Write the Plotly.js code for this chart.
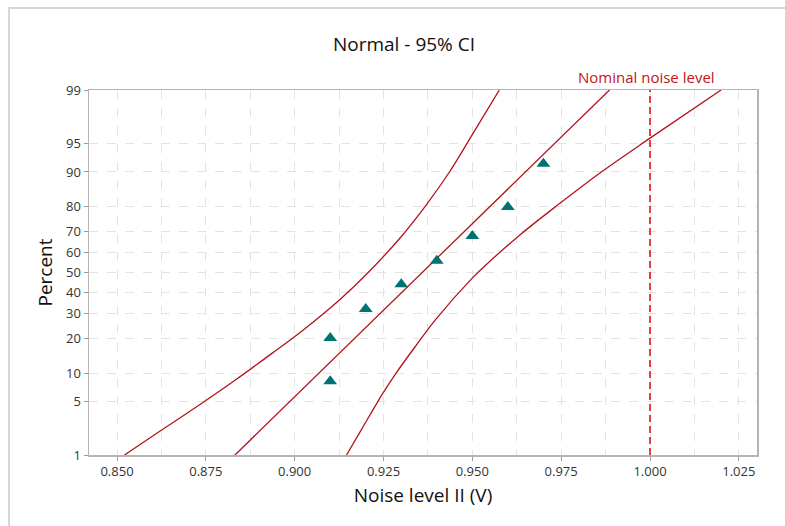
<!DOCTYPE html>
<html>
<head>
<meta charset="utf-8">
<script src="https://cdn.plot.ly/plotly-3.0.1.min.js"></script>
<style>
html,body{margin:0;padding:0;background:#fff;}
#frame{position:absolute;left:8px;top:7px;width:790px;height:530px;border-left:2px solid #d6d6d6;border-top:2px solid #d6d6d6;}
#chart{position:absolute;left:0;top:0;width:785px;height:526px;}
</style>
</head>
<body>
<div id="frame"></div>
<div id="chart"></div>
<script>
// Observed data (Noise level II, V) and plotting positions (percent)
const noiseLevel = [0.91, 0.91, 0.92, 0.93, 0.94, 0.95, 0.96, 0.97];
const percentRank = [8.3, 20.2, 32.1, 44.0, 56.0, 67.9, 79.8, 91.7];

// Fitted normal line (read at 1% and 99%)
const fitPercent = [1, 99];
const fitX = [0.8832, 0.9886];

// 95% CI bands
const lowerPercent = [1, 2.02, 4.98, 8.53, 15.2, 23.5, 36.3, 50, 66.9, 80.5, 90.05, 96.0, 99];
const lowerX = [0.8521, 0.8612, 0.8745, 0.8833, 0.8937, 0.9027, 0.9126, 0.9207, 0.9296, 0.9370, 0.9436, 0.9499, 0.9576];
const upperPercent = [1, 2.23, 6.18, 9.94, 17.2, 27.3, 47, 53.8, 68.4, 80.5, 90.05, 95.6, 99];
const upperX = [0.9146, 0.9187, 0.9248, 0.9285, 0.9339, 0.9396, 0.9499, 0.9538, 0.9634, 0.9740, 0.9864, 0.9998, 1.0200];

// Nominal level reference
const nominalLevel = 1.000;
const nominalLabel = "Nominal noise level";

// Axis ticks
const percentTicks = [1, 5, 10, 20, 30, 40, 50, 60, 70, 80, 90, 95, 99];
const xTickVals = [0.850, 0.875, 0.900, 0.925, 0.950, 0.975, 1.000, 1.025];

// inverse standard normal CDF (Acklam)
function probit(p){
  const a=[-3.969683028665376e+01,2.209460984245205e+02,-2.759285104469687e+02,1.383577518672690e+02,-3.066479806614716e+01,2.506628277459239e+00];
  const b=[-5.447609879822406e+01,1.615858368580409e+02,-1.556989798598866e+02,6.680131188771972e+01,-1.328068155288572e+01];
  const c=[-7.784894002430293e-03,-3.223964580411365e-01,-2.400758277161838e+00,-2.549732539343734e+00,4.374664141464968e+00,2.938163982698783e+00];
  const d=[7.784695709041462e-03,3.224671290700398e-01,2.445134137142996e+00,3.754408661907416e+00];
  const pl=0.02425, ph=1-pl; let q,r;
  if(p<pl){q=Math.sqrt(-2*Math.log(p));return (((((c[0]*q+c[1])*q+c[2])*q+c[3])*q+c[4])*q+c[5])/((((d[0]*q+d[1])*q+d[2])*q+d[3])*q+1);}
  if(p<=ph){q=p-0.5;r=q*q;return (((((a[0]*r+a[1])*r+a[2])*r+a[3])*r+a[4])*r+a[5])*q/(((((b[0]*r+b[1])*r+b[2])*r+b[3])*r+b[4])*r+1);}
  q=Math.sqrt(-2*Math.log(1-p));return -(((((c[0]*q+c[1])*q+c[2])*q+c[3])*q+c[4])*q+c[5])/((((d[0]*q+d[1])*q+d[2])*q+d[3])*q+1);
}
const z = arr => arr.map(v => probit(v/100));

const lineColor = '#b0141c';
const FONT = '"Open Sans", "Noto Sans", sans-serif';
const zMin = probit(0.01), zMax = probit(0.99);

const traces = [
  {x: lowerX, y: z(lowerPercent), mode:'lines', line:{color:lineColor, width:1.3, shape:'spline', smoothing:1}, hoverinfo:'skip'},
  {x: fitX, y: z(fitPercent), mode:'lines', line:{color:lineColor, width:1.3}, hoverinfo:'skip'},
  {x: upperX, y: z(upperPercent), mode:'lines', line:{color:lineColor, width:1.3, shape:'spline', smoothing:1}, hoverinfo:'skip'},
  {x: [nominalLevel, nominalLevel], y: [zMin, zMax], mode:'lines', line:{color:'#e8101a', width:1.6, dash:'7px,4px'}, hoverinfo:'skip'},
  {x: noiseLevel, y: z(percentRank), mode:'markers', marker:{symbol:'triangle-up', size:12, color:'#007272'}}
];

const layout = {
  width:785, height:526,
  margin:{l:89, r:28, t:90, b:71},
  paper_bgcolor:'rgba(0,0,0,0)', plot_bgcolor:'#fff',
  showlegend:false,
  font:{family:FONT, color:'#222'},
  title:{text:'Normal - 95% CI', font:{family:FONT, size:19, color:'#111'}, xref:'container', x:404/785, xanchor:'center', yref:'container', y:1-44/526, yanchor:'middle'},
  xaxis:{
    range:[0.84212, 1.03011], tickvals:xTickVals, ticktext:xTickVals.map(v=>v.toFixed(3)),
    showgrid:true, gridcolor:'#e3e3e3', griddash:'dash', gridwidth:1,
    minor:{dtick:0.0125, tick0:0.85, showgrid:true, gridcolor:'#e3e3e3', griddash:'dash', gridwidth:1, ticks:''},
    ticks:'outside', ticklen:4, tickcolor:'#999',
    showline:true, linecolor:'#b4b4b4', linewidth:1.5, mirror:true, zeroline:false,
    tickfont:{size:13, color:'#333'},
    title:{text:'Noise level II (V)', font:{size:19, color:'#111'}, standoff:9}
  },
  yaxis:{
    range:[zMin, zMax], tickvals:z(percentTicks), ticktext:percentTicks.map(String),
    showgrid:true, gridcolor:'#e3e3e3', griddash:'dash', gridwidth:1,
    ticks:'outside', ticklen:4, tickcolor:'#999',
    showline:true, linecolor:'#b4b4b4', linewidth:1.5, mirror:true, zeroline:false,
    tickfont:{size:13, color:'#333'},
    title:{text:'Percent', font:{size:19, color:'#111'}, standoff:8}
  },
  annotations:[{x:nominalLevel, xref:'x', y:1, yref:'paper', yanchor:'bottom', yshift:1, xanchor:'center', xshift:-4,
    text:nominalLabel, showarrow:false, font:{family:FONT, size:15, color:'#c0141c'}}]
};

Plotly.newPlot('chart', traces, layout, {staticPlot:true, displayModeBar:false});
</script>
</body>
</html>
